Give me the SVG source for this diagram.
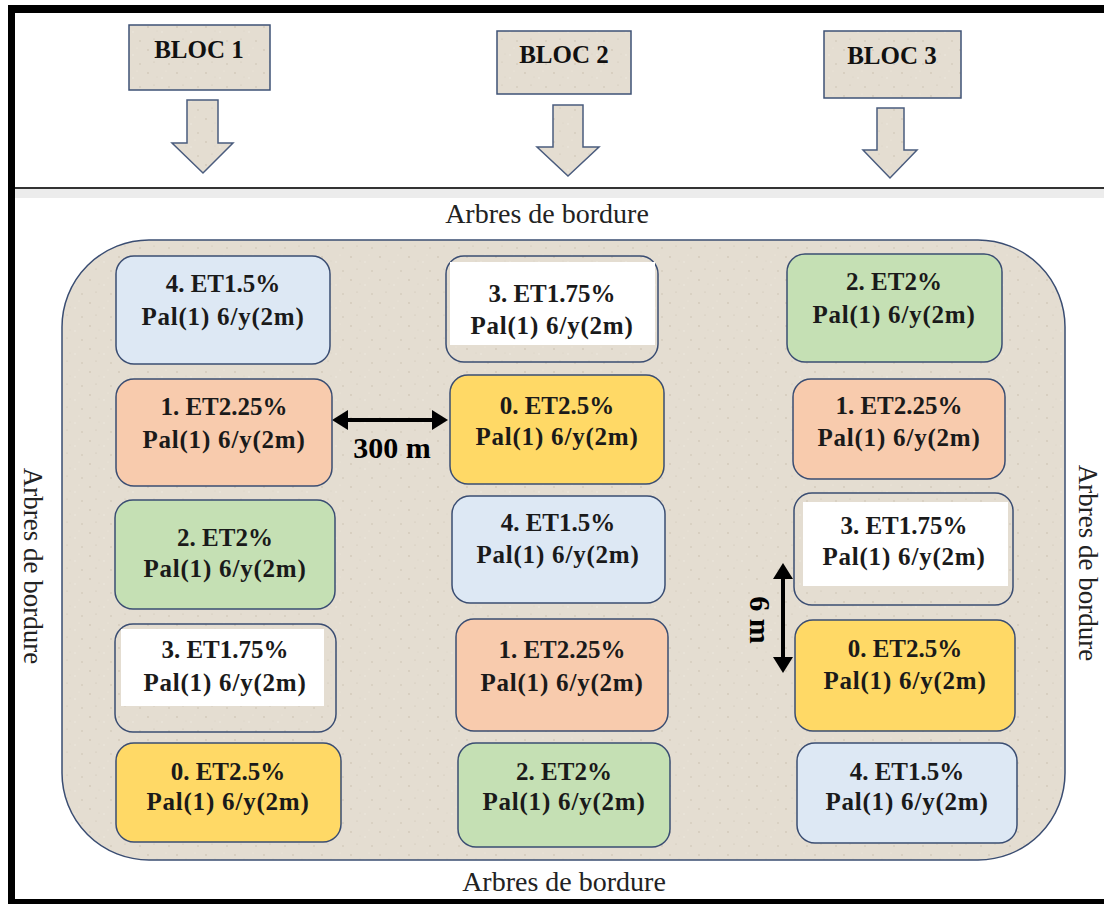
<svg xmlns="http://www.w3.org/2000/svg" width="1104" height="904" viewBox="0 0 1104 904">
<defs>
<pattern id="tex" width="29" height="23" patternUnits="userSpaceOnUse">
<rect width="29" height="23" fill="#e4ddd1"/>
<circle cx="3" cy="4" r="0.9" fill="#d2c9b9"/>
<circle cx="17" cy="9" r="0.7" fill="#f0ebe3"/>
<circle cx="24" cy="18" r="1" fill="#d6cdbe"/>
<circle cx="9" cy="16" r="0.6" fill="#cbc2b2"/>
<circle cx="21" cy="2" r="0.6" fill="#efe9df"/>
<circle cx="12" cy="8" r="0.5" fill="#d9d1c3"/>
</pattern>
<marker id="ah" viewBox="0 0 16 20" refX="12" refY="10" markerWidth="16" markerHeight="20" markerUnits="userSpaceOnUse" orient="auto-start-reverse">
<path d="M0,0 L16,10 L0,20 z" fill="#000"/>
</marker>
<style>
.frame{fill:#000}
.bloc{fill:url(#tex);stroke:#3e5276;stroke-width:1.5}
.bt{font-family:"Liberation Serif",serif;font-weight:bold;font-size:25px;fill:#111;text-anchor:middle}
.barrow{fill:url(#tex);stroke:#4a5c7e;stroke-width:1.5;stroke-linejoin:miter}
.field{fill:url(#tex);stroke:#3a4d72;stroke-width:1.5}
.nd{stroke:#3a4d72;stroke-width:1.5}
.blue{fill:#dde8f4}
.salmon{fill:#f8cbad}
.green{fill:#c5e0b4}
.yellow{fill:#ffd966}
.white{fill:url(#tex)}
.wbox{fill:#fff}
.t{font-family:"Liberation Serif",serif;font-weight:bold;font-size:25px;fill:#1a1a1a;text-anchor:middle}
.t2{letter-spacing:0.8px}
.lab{font-family:"Liberation Serif",serif;font-size:28px;fill:#222;text-anchor:middle}
.lab2{font-size:27px}
.dim{stroke:#000;stroke-width:4;fill:none;marker-start:url(#ah);marker-end:url(#ah)}
.dt{font-family:"Liberation Serif",serif;font-weight:bold;font-size:30px;fill:#000;text-anchor:middle}
</style>
</defs>
<rect width="1104" height="904" fill="#fff"/>
<rect x="15" y="189" width="1089" height="9" fill="#ececec"/>
<line x1="15" y1="188" x2="1104" y2="188" stroke="#333" stroke-width="2"/>
<rect class="frame" x="8" y="5" width="1096" height="8"/>
<rect class="frame" x="8" y="5" width="7" height="899"/>
<rect class="frame" x="8" y="899" width="1096" height="5"/>

<rect class="field" x="62" y="240" width="1003" height="620" rx="87" ry="87"/>

<text class="lab" x="547" y="223">Arbres de bordure</text>
<text class="lab" x="564" y="891">Arbres de bordure</text>
<text class="lab lab2" transform="translate(33,566) rotate(90)" x="0" y="9">Arbres de bordure</text>
<text class="lab lab2" transform="translate(1088,563) rotate(90)" x="0" y="9">Arbres de bordure</text>

<g id="bloc1"><rect class="bloc" x="129" y="25" width="141" height="65"/><text class="bt" x="199" y="58">BLOC 1</text></g>
<g id="bloc2"><rect class="bloc" x="497" y="31" width="134" height="63"/><text class="bt" x="564" y="63">BLOC 2</text></g>
<g id="bloc3"><rect class="bloc" x="824" y="31" width="137" height="67"/><text class="bt" x="892" y="64">BLOC 3</text></g>

<g id="connectors">
<polygon class="barrow" points="187,100 218,100 218,143 233,143 203,173 172,143 187,143"/>
<polygon class="barrow" points="553,105 583,105 583,147 599,147 568,176 537,147 553,147"/>
<polygon class="barrow" points="877,108 904,108 904,150 917,150 890,178 863,150 877,150"/>
<line class="dim" x1="336" y1="420" x2="444" y2="420"/>
<line class="dim" x1="783" y1="567" x2="783" y2="669"/>
</g>
<text class="dt" x="392" y="458">300 m</text>
<text class="dt" transform="translate(760,620) rotate(90)" x="0" y="10">6 m</text>

<g id="c1n1"><rect class="nd blue" x="116" y="256" width="214" height="108" rx="18"/><text class="t" x="223" y="292">4. ET1.5%</text><text class="t t2" x="223" y="325">Pal(1) 6/y(2m)</text></g>
<g id="c1n2"><rect class="nd salmon" x="116" y="379" width="216" height="107" rx="18"/><text class="t" x="224" y="415">1. ET2.25%</text><text class="t t2" x="224" y="448">Pal(1) 6/y(2m)</text></g>
<g id="c1n3"><rect class="nd green" x="115" y="500" width="220" height="109" rx="18"/><text class="t" x="225" y="546">2. ET2%</text><text class="t t2" x="225" y="577">Pal(1) 6/y(2m)</text></g>
<g id="c1n4"><rect class="nd white" x="115" y="624" width="221" height="108" rx="18"/><rect class="wbox" x="121" y="629" width="203" height="77"/><text class="t" x="225" y="658">3. ET1.75%</text><text class="t t2" x="225" y="691">Pal(1) 6/y(2m)</text></g>
<g id="c1n5"><rect class="nd yellow" x="116" y="743" width="225" height="99" rx="18"/><text class="t" x="228" y="780">0. ET2.5%</text><text class="t t2" x="228" y="810">Pal(1) 6/y(2m)</text></g>

<g id="c2n1"><rect class="nd white" x="446" y="256" width="212" height="106" rx="18"/><rect class="wbox" x="450" y="262" width="205" height="83"/><text class="t" x="552" y="302">3. ET1.75%</text><text class="t t2" x="552" y="334">Pal(1) 6/y(2m)</text></g>
<g id="c2n2"><rect class="nd yellow" x="450" y="375" width="214" height="109" rx="18"/><text class="t" x="557" y="414">0. ET2.5%</text><text class="t t2" x="557" y="445">Pal(1) 6/y(2m)</text></g>
<g id="c2n3"><rect class="nd blue" x="452" y="496" width="213" height="107" rx="18"/><text class="t" x="558" y="531">4. ET1.5%</text><text class="t t2" x="558" y="563">Pal(1) 6/y(2m)</text></g>
<g id="c2n4"><rect class="nd salmon" x="456" y="619" width="212" height="112" rx="18"/><text class="t" x="562" y="658">1. ET2.25%</text><text class="t t2" x="562" y="691">Pal(1) 6/y(2m)</text></g>
<g id="c2n5"><rect class="nd green" x="458" y="743" width="212" height="104" rx="18"/><text class="t" x="564" y="780">2. ET2%</text><text class="t t2" x="564" y="810">Pal(1) 6/y(2m)</text></g>

<g id="c3n1"><rect class="nd green" x="787" y="254" width="215" height="108" rx="18"/><text class="t" x="894" y="290">2. ET2%</text><text class="t t2" x="894" y="323">Pal(1) 6/y(2m)</text></g>
<g id="c3n2"><rect class="nd salmon" x="793" y="379" width="212" height="100" rx="18"/><text class="t" x="899" y="414">1. ET2.25%</text><text class="t t2" x="899" y="446">Pal(1) 6/y(2m)</text></g>
<g id="c3n3"><rect class="nd white" x="794" y="493" width="219" height="112" rx="18"/><rect class="wbox" x="803" y="502" width="205" height="84"/><text class="t" x="904" y="534">3. ET1.75%</text><text class="t t2" x="904" y="565">Pal(1) 6/y(2m)</text></g>
<g id="c3n4"><rect class="nd yellow" x="795" y="620" width="220" height="111" rx="18"/><text class="t" x="905" y="657">0. ET2.5%</text><text class="t t2" x="905" y="689">Pal(1) 6/y(2m)</text></g>
<g id="c3n5"><rect class="nd blue" x="797" y="743" width="220" height="100" rx="18"/><text class="t" x="907" y="780">4. ET1.5%</text><text class="t t2" x="907" y="810">Pal(1) 6/y(2m)</text></g>
</svg>
